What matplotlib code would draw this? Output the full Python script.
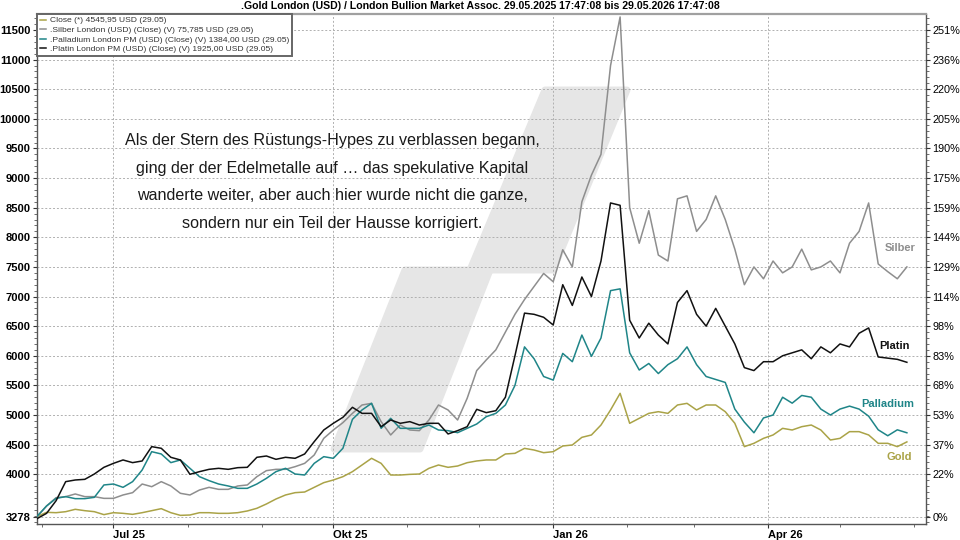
import numpy as np
import pandas as pd
import matplotlib
matplotlib.use('Agg')
import matplotlib.pyplot as plt
import matplotlib.dates as mdates
from matplotlib.patches import Polygon
from matplotlib.ticker import FixedLocator, MultipleLocator

plt.rcParams['font.family'] = ['Liberation Sans', 'DejaVu Sans']

dates = pd.date_range('2025-05-30', periods=92, freq='4D')

gold = [3285, 3357, 3351, 3368, 3408, 3385, 3368, 3318, 3351, 3340,
        3323, 3351, 3385, 3419, 3351, 3306, 3312, 3351, 3351, 3340,
        3340, 3351, 3380, 3425, 3498, 3582, 3650, 3689, 3700, 3779,
        3858, 3903, 3959, 4044, 4156, 4269, 4184, 3987, 3987, 3998,
        4004, 4100, 4156, 4117, 4139, 4195, 4224, 4241, 4241, 4342,
        4353, 4437, 4409, 4364, 4381, 4477, 4494, 4623, 4663, 4831,
        5085, 5366, 4860, 4944, 5028, 5056, 5028, 5169, 5197, 5085,
        5169, 5169, 5056, 4860, 4466, 4522, 4606, 4663, 4775, 4747,
        4803, 4831, 4747, 4578, 4606, 4719, 4719, 4663, 4522, 4522,
        4466, 4546]

silber = [3280, 3464, 3605, 3622, 3667, 3622, 3622, 3593, 3593, 3650,
          3689, 3835, 3790, 3875, 3802, 3678, 3650, 3734, 3779, 3745,
          3745, 3802, 3819, 3959, 4061, 4083, 4083, 4128, 4184, 4325,
          4606, 4747, 4871, 5028, 5169, 5197, 4888, 4663, 4831, 4747,
          4736, 4916, 5169, 5085, 4916, 5282, 5750, 5930, 6100, 6400,
          6700, 6950, 7170, 7390, 7250, 7790, 7500, 8600, 9050, 9400,
          10900, 11720, 8500, 7900, 8450, 7700, 7600, 8650, 8700, 8100,
          8300, 8700, 8300, 7800, 7200, 7500, 7300, 7600, 7400, 7500,
          7800, 7450, 7500, 7600, 7400, 7900, 8100, 8580, 7550, 7420,
          7300, 7500]

palladium = [3290, 3464, 3593, 3622, 3588, 3588, 3610, 3819, 3835, 3779,
             3875, 4072, 4381, 4342, 4196, 4241, 4100, 3959, 3892, 3835,
             3802, 3762, 3762, 3835, 3931, 4044, 4100, 4004, 3987, 4184,
             4297, 4269, 4438, 4927, 5085, 5197, 4775, 4944, 4775, 4775,
             4775, 4831, 4747, 4736, 4702, 4775, 4848, 4972, 5028, 5169,
             5500, 6150, 5950, 5650, 5590, 6040, 5900, 6350, 5990, 6300,
             7100, 7130, 6050, 5760, 5870, 5700, 5850, 5950, 6150, 5850,
             5650, 5600, 5550, 5100, 4880, 4700, 4950, 5000, 5300, 5200,
             5330, 5300, 5100, 5000, 5100, 5150, 5100, 4980, 4750, 4650,
             4750, 4700]

platin = [3250, 3340, 3554, 3875, 3903, 3914, 4004, 4117, 4184, 4241,
          4196, 4224, 4466, 4438, 4286, 4241, 3999, 4044, 4083, 4100,
          4083, 4111, 4117, 4286, 4308, 4252, 4286, 4269, 4342, 4550,
          4747, 4860, 4961, 5130, 5028, 5028, 4803, 4916, 4860, 4888,
          4831, 4860, 4860, 4680, 4736, 4803, 5096, 5040, 5073, 5300,
          6000, 6720, 6700, 6650, 6520, 7200, 6850, 7330, 7000, 7600,
          8580, 8540, 6600, 6300, 6550, 6350, 6200, 6900, 7100, 6700,
          6500, 6800, 6500, 6200, 5800, 5750, 5900, 5900, 6000, 6050,
          6100, 5950, 6150, 6050, 6200, 6150, 6380, 6470, 5980, 5960,
          5940, 5890]

basis = 3278
yticks = [3278] + list(range(4000, 11501, 500))
xticks = ['2025-07-01', '2025-10-01', '2026-01-01', '2026-04-01']
xlabels = ['Jul 25', 'Okt 25', 'Jan 26', 'Apr 26']

legend_labels = ['Close (*) 4545,95 USD (29.05)',
                 '.Silber London (USD) (Close) (V) 75,785 USD (29.05)',
                 '.Palladium London PM (USD) (Close) (V) 1384,00 USD (29.05)',
                 '.Platin London PM (USD) (Close) (V) 1925,00 USD (29.05)']

c_gold = '#aaa347'
c_silber = '#8e8e8e'
c_pall = '#1f8588'
c_plat = '#111111'

fig = plt.figure(figsize=(9.6, 5.4), dpi=100)
ax = fig.add_axes([37/960, 16/540, 889/960, 510/540])

# Wasserzeichen im Hintergrund (Pixelkoordinaten -> Achsenanteil)
def px2ax(pts):
    return [((x - 37) / 889, (524 - y) / 510) for x, y in pts]

wm_lower = [(334, 449), (420, 449), (490, 270), (405, 270)]
wm_upper = [(470, 270), (553, 270), (627, 90), (545, 90)]
for poly in (wm_lower, wm_upper):
    ax.add_patch(Polygon(px2ax(poly), closed=True, transform=ax.transAxes,
                         facecolor='#e6e6e6', edgecolor='#e6e6e6', lw=5,
                         joinstyle='round', zorder=0.1))

l1, = ax.plot(dates, gold, color=c_gold, lw=1.1, zorder=3)
l2, = ax.plot(dates, silber, color=c_silber, lw=1.1, zorder=3)
l3, = ax.plot(dates, palladium, color=c_pall, lw=1.1, zorder=3)
l4, = ax.plot(dates, platin, color=c_plat, lw=1.1, zorder=4)

ax.set_xlim(pd.Timestamp('2025-05-30'), pd.Timestamp('2026-06-06'))
ax.set_ylim(3160, 11770)

ax.yaxis.set_major_locator(FixedLocator(yticks))
ax.yaxis.set_minor_locator(MultipleLocator(100))
ax.set_yticklabels([str(v) for v in yticks], fontsize=8, fontweight='bold')
ax.set_xticks(pd.to_datetime(xticks))
ax.set_xticklabels(xlabels, fontsize=8, fontweight='bold', ha='left')
ax.xaxis.set_minor_locator(mdates.MonthLocator())
ax.tick_params(axis='both', which='major', length=3, width=0.8, colors='#333333', labelcolor='black')
ax.tick_params(axis='y', which='minor', length=2, width=0.6, colors='#555555')
ax.tick_params(axis='x', which='minor', length=2, width=0.6, colors='#555555')
ax.tick_params(axis='y', pad=1.5)
ax.tick_params(axis='x', pad=1)

ax.grid(True, which='major', color='#b0b0b0', linestyle=(0, (2, 2)), linewidth=0.7)
ax.set_axisbelow(True)

for s in ['left', 'bottom', 'right']:
    ax.spines[s].set_color('#555555')
    ax.spines[s].set_linewidth(1.0)
ax.spines['top'].set_color('#a0a0a0')
ax.spines['top'].set_linewidth(1.6)

ax2 = ax.twinx()
ax2.set_ylim(ax.get_ylim())
ax2.yaxis.set_major_locator(FixedLocator(yticks))
ax2.yaxis.set_minor_locator(MultipleLocator(100))
ax2.set_yticklabels(['%d%%' % round((v / basis - 1) * 100) for v in yticks], fontsize=7.8)
ax2.tick_params(axis='y', which='major', length=3, width=0.8, colors='#333333', labelcolor='black', pad=1.5)
ax2.tick_params(axis='y', which='minor', length=2, width=0.6, colors='#555555')
for s in ax2.spines.values():
    s.set_visible(False)

leg = ax.legend([l1, l2, l3, l4], legend_labels, loc='upper left', bbox_to_anchor=(0, 1),
                borderaxespad=0, fontsize=6.1, handlelength=0.8, handletextpad=0.4,
                labelspacing=0.2, borderpad=0.3, fancybox=False, framealpha=1)
leg.get_frame().set_edgecolor('#666666')
leg.get_frame().set_linewidth(1.4)
leg.set_zorder(10)
for t in leg.get_texts():
    t.set_color('#333333')

# Serienbeschriftungen rechts
ax.text(pd.Timestamp('2026-05-26'), 7819, 'Silber', color=c_silber, fontsize=8, fontweight='bold', ha='center', va='center', zorder=5)
ax.text(pd.Timestamp('2026-05-24'), 6165, 'Platin', color=c_plat, fontsize=8, fontweight='bold', ha='center', va='center', zorder=5)
ax.text(pd.Timestamp('2026-05-21'), 5185, 'Palladium', color=c_pall, fontsize=8, fontweight='bold', ha='center', va='center', zorder=5)
ax.text(pd.Timestamp('2026-05-26'), 4291, 'Gold', color=c_gold, fontsize=8, fontweight='bold', ha='center', va='center', zorder=5)

note = ('Als der Stern des Rüstungs-Hypes zu verblassen begann,\n'
        'ging der der Edelmetalle auf … das spekulative Kapital\n'
        'wanderte weiter, aber auch hier wurde nicht die ganze,\n'
        'sondern nur ein Teil der Hausse korrigiert.')
fig.text(332/960, 1 - 182/540, note, fontsize=11.6, ha='center', va='center',
         linespacing=2.05, color='#1a1a1a')

fig.text(480/960, 1 - 6/540,
         '.Gold London (USD) / London Bullion Market Assoc. 29.05.2025 17:47:08 bis 29.05.2026 17:47:08',
         fontsize=7.6, fontweight='bold', ha='center', va='center')

fig.savefig('out.png', dpi=100)
